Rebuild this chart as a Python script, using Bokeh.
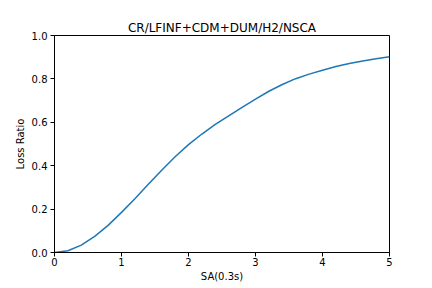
from bokeh.plotting import figure
from bokeh.models import Range1d, FixedTicker, CustomJSTickFormatter
from bokeh.embed import file_html
from bokeh.resources import INLINE

# Data
sa = [0.0, 0.2, 0.4, 0.6, 0.8, 1.0, 1.2, 1.4, 1.6, 1.8, 2.0,
      2.2, 2.4, 2.6, 2.8, 3.0, 3.2, 3.4, 3.6, 3.8, 4.0,
      4.2, 4.4, 4.6, 4.8, 5.0]
loss_ratio = [0.0, 0.008, 0.034, 0.074, 0.125, 0.185, 0.248, 0.314, 0.379, 0.441, 0.497,
              0.546, 0.59, 0.63, 0.669, 0.707, 0.743, 0.774, 0.801, 0.822, 0.84,
              0.857, 0.871, 0.883, 0.893, 0.902]
x_ticks = [0, 1, 2, 3, 4, 5]
y_ticks = [0.0, 0.2, 0.4, 0.6, 0.8, 1.0]
title_text = "CR/LFINF+CDM+DUM/H2/NSCA"
x_label = "SA(0.3s)"
y_label = "Loss Ratio"

FONT = "DejaVu Sans"

p = figure(width=432, height=288, output_backend="svg", toolbar_location=None,
           x_range=Range1d(0, 5), y_range=Range1d(0, 1),
           min_border_left=54, min_border_right=43, min_border_top=35, min_border_bottom=36)

p.line(sa, loss_ratio, line_color="#1f77b4", line_width=1.5, line_join="round")

p.title.text = title_text
p.title.align = "center"
p.title.vertical_align = "bottom"
p.title.text_font = FONT
p.title.text_font_size = "12px"
p.title.text_font_style = "normal"
p.title.text_color = "black"
p.title.standoff = 2

p.xgrid.visible = False
p.ygrid.visible = False
p.outline_line_color = "black"
p.outline_line_width = 1
p.background_fill_color = "white"
p.border_fill_color = "white"

p.xaxis.ticker = FixedTicker(ticks=x_ticks)
p.yaxis.ticker = FixedTicker(ticks=y_ticks)
p.yaxis.formatter = CustomJSTickFormatter(code="return tick.toFixed(1);")

for ax in (p.xaxis, p.yaxis):
    ax.axis_line_color = "black"
    ax.major_tick_line_color = "black"
    ax.major_tick_in = 0
    ax.major_tick_out = 4
    ax.minor_tick_line_color = None
    ax.major_label_text_font = FONT
    ax.major_label_text_font_size = "10px"
    ax.major_label_text_color = "black"
    ax.axis_label_text_font = FONT
    ax.axis_label_text_font_size = "10px"
    ax.axis_label_text_font_style = "normal"
    ax.axis_label_text_color = "black"

p.xaxis.axis_label = x_label
p.yaxis.axis_label = y_label
p.xaxis.major_label_standoff = 1
p.yaxis.major_label_standoff = 3
p.xaxis.axis_label_standoff = 2
p.yaxis.axis_label_standoff = 3

open("out.html", "w").write(file_html(p, INLINE))
